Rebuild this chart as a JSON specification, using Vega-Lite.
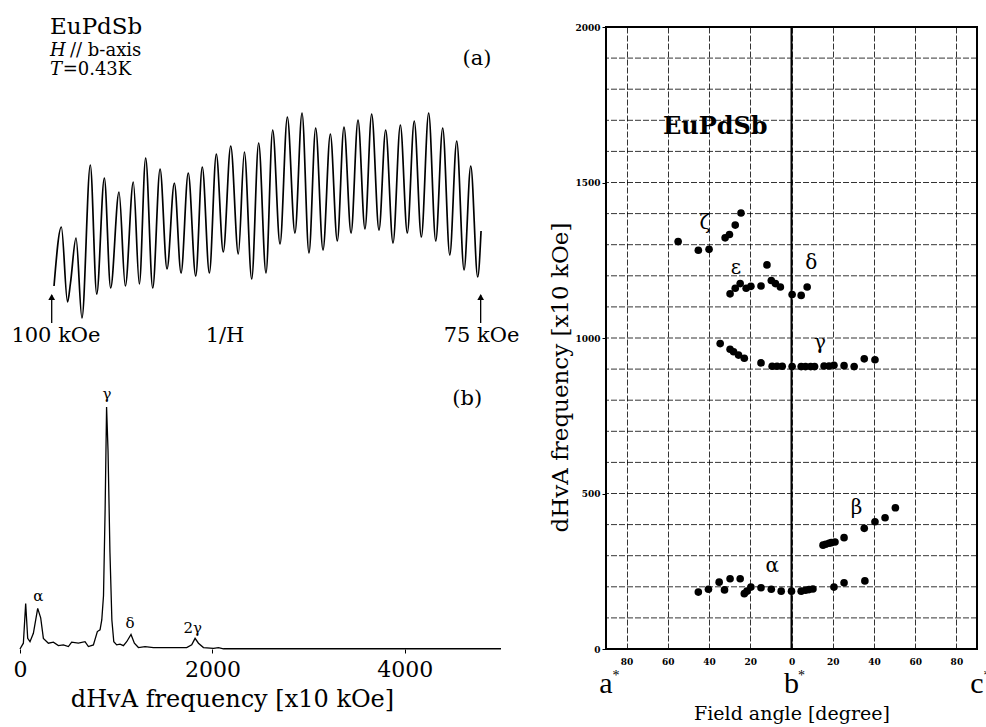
{
  "$schema": "https://vega.github.io/schema/vega-lite/v6.json",
  "padding": {"left": 11, "top": 15, "right": 0, "bottom": 0},
  "background": "white",
  "bounds": "flush",
  "spacing": 105,
  "config": {"font": "DejaVu Serif", "view": {"stroke": null}, "axis": {"labelColor": "black", "titleColor": "black", "domainColor": "black", "tickColor": "black"}},
  "hconcat": [
    {
      "width": 481,
      "height": 622,
      "view": {"stroke": null},
      "resolve": {"scale": {"x": "independent", "y": "independent"}, "axis": {"x": "independent", "y": "independent"}},
      "layer": [
        {
          "encoding": {
            "x": {"field": "invH", "type": "quantitative", "scale": {"domain": [9.7537, 13.491], "nice": false, "zero": false}, "axis": null},
            "y": {"field": "sig", "type": "quantitative", "scale": {"domain": [-27.6, 34.6], "nice": false, "zero": false}, "axis": null}
          },
          "layer": [
            {
              "data": {"values": [
                {"invH": 10.018, "sig": 8.7}, {"invH": 10.075, "sig": 14.6}, {"invH": 10.123, "sig": 7.1}, {"invH": 10.146, "sig": 9.0},
                {"invH": 10.189, "sig": 13.5}, {"invH": 10.235, "sig": 5.5}, {"invH": 10.300, "sig": 20.8}, {"invH": 10.350, "sig": 7.9},
                {"invH": 10.409, "sig": 19.5}, {"invH": 10.458, "sig": 8.5}, {"invH": 10.523, "sig": 18.1}, {"invH": 10.572, "sig": 8.7},
                {"invH": 10.634, "sig": 19.1}, {"invH": 10.681, "sig": 8.9}, {"invH": 10.730, "sig": 21.5}, {"invH": 10.785, "sig": 8.5},
                {"invH": 10.842, "sig": 20.4}, {"invH": 10.896, "sig": 10.4}, {"invH": 10.953, "sig": 19.0}, {"invH": 11.005, "sig": 10.0},
                {"invH": 11.061, "sig": 20.0}, {"invH": 11.119, "sig": 9.7}, {"invH": 11.170, "sig": 20.6}, {"invH": 11.225, "sig": 10.0},
                {"invH": 11.279, "sig": 21.9}, {"invH": 11.333, "sig": 12.1}, {"invH": 11.391, "sig": 22.7}, {"invH": 11.450, "sig": 11.9},
                {"invH": 11.497, "sig": 22.1}, {"invH": 11.554, "sig": 9.4}, {"invH": 11.608, "sig": 23.0}, {"invH": 11.665, "sig": 10.0},
                {"invH": 11.717, "sig": 24.3}, {"invH": 11.774, "sig": 12.9}, {"invH": 11.831, "sig": 25.6}, {"invH": 11.890, "sig": 14.0},
                {"invH": 11.945, "sig": 26.0}, {"invH": 11.999, "sig": 12.0}, {"invH": 12.051, "sig": 24.5}, {"invH": 12.108, "sig": 12.3},
                {"invH": 12.165, "sig": 23.9}, {"invH": 12.219, "sig": 13.2}, {"invH": 12.271, "sig": 24.6}, {"invH": 12.326, "sig": 14.0},
                {"invH": 12.380, "sig": 25.3}, {"invH": 12.434, "sig": 14.4}, {"invH": 12.486, "sig": 25.9}, {"invH": 12.543, "sig": 14.3},
                {"invH": 12.595, "sig": 24.3}, {"invH": 12.652, "sig": 13.0}, {"invH": 12.709, "sig": 24.8}, {"invH": 12.763, "sig": 14.0},
                {"invH": 12.817, "sig": 25.2}, {"invH": 12.872, "sig": 13.6}, {"invH": 12.929, "sig": 26.0}, {"invH": 12.984, "sig": 13.2},
                {"invH": 13.038, "sig": 24.5}, {"invH": 13.093, "sig": 11.8}, {"invH": 13.147, "sig": 23.2}, {"invH": 13.204, "sig": 10.3},
                {"invH": 13.256, "sig": 20.7}, {"invH": 13.310, "sig": 9.6}, {"invH": 13.336, "sig": 14.2}
              ]},
              "mark": {"type": "line", "interpolate": "monotone", "color": "black", "strokeWidth": 1.7}
            },
            {
              "data": {"values": [{"invH": 10.0, "sig": 5.0, "hi": 7.8}, {"invH": 13.333, "sig": 5.0, "hi": 7.8}]},
              "mark": {"type": "rule", "color": "black", "strokeWidth": 1.3},
              "encoding": {"y2": {"field": "hi"}}
            },
            {
              "data": {"values": [{"invH": 10.0, "sig": 7.6}, {"invH": 13.333, "sig": 7.6}]},
              "mark": {"type": "point", "shape": "triangle-up", "filled": true, "color": "black", "size": 45, "opacity": 1}
            },
            {
              "data": {"values": [{"invH": 9.987, "sig": 34.65, "label": "EuPdSb"}]},
              "mark": {"type": "text", "align": "left", "baseline": "middle", "fontSize": 23, "color": "black"},
              "encoding": {"text": {"field": "label"}}
            },
            {
              "data": {"values": [{"invH": 9.987, "sig": 32.25, "label": "H"}, {"invH": 9.987, "sig": 30.3, "label": "T"}]},
              "mark": {"type": "text", "align": "left", "baseline": "middle", "fontSize": 18, "fontStyle": "italic", "color": "black"},
              "encoding": {"text": {"field": "label"}}
            },
            {
              "data": {"values": [{"invH": 10.142, "sig": 32.25, "label": "// b-axis"}, {"invH": 10.085, "sig": 30.3, "label": "=0.43K"}]},
              "mark": {"type": "text", "align": "left", "baseline": "middle", "fontSize": 18, "color": "black"},
              "encoding": {"text": {"field": "label"}}
            },
            {
              "data": {"values": [
                {"invH": 13.305, "sig": 31.4, "label": "(a)"},
                {"invH": 10.033, "sig": 3.7, "label": "100 kOe"},
                {"invH": 11.347, "sig": 3.7, "label": "1/H"},
                {"invH": 13.34, "sig": 3.7, "label": "75 kOe"}
              ]},
              "mark": {"type": "text", "align": "center", "baseline": "middle", "fontSize": 21, "color": "black"},
              "encoding": {"text": {"field": "label"}}
            }
          ]
        },
        {
          "encoding": {
            "x": {"field": "freq", "type": "quantitative", "scale": {"domain": [0, 5000], "nice": false},
              "axis": {"orient": "bottom", "values": [0, 2000, 4000], "format": "d", "grid": false, "domain": false, "labelFlush": false, "labelFontSize": 22, "labelPadding": 6, "tickSize": 4, "title": "dHvA frequency [x10 kOe]", "titleFontSize": 24, "titleFontWeight": "normal", "titlePadding": 7, "titleX": 212}},
            "y": {"field": "amp", "type": "quantitative", "scale": {"domain": [0, 257], "nice": false}, "axis": null}
          },
          "layer": [
            {
              "data": {"values": [
                {"freq": 0, "amp": 0}, {"freq": 35, "amp": 2.4}, {"freq": 59, "amp": 18.8}, {"freq": 80, "amp": 4.4},
                {"freq": 104, "amp": 3}, {"freq": 139, "amp": 6.5}, {"freq": 184, "amp": 16.8}, {"freq": 215, "amp": 12.9},
                {"freq": 243, "amp": 4.4}, {"freq": 295, "amp": 2.4}, {"freq": 347, "amp": 2.8}, {"freq": 399, "amp": 1.4},
                {"freq": 451, "amp": 1.7}, {"freq": 503, "amp": 1.0}, {"freq": 537, "amp": 2.8}, {"freq": 607, "amp": 2.4},
                {"freq": 676, "amp": 3}, {"freq": 711, "amp": 1}, {"freq": 763, "amp": 1.7}, {"freq": 804, "amp": 7.2},
                {"freq": 832, "amp": 7.9}, {"freq": 850, "amp": 12}, {"freq": 868, "amp": 22}, {"freq": 885, "amp": 58},
                {"freq": 900, "amp": 100}, {"freq": 915, "amp": 82}, {"freq": 935, "amp": 40}, {"freq": 955, "amp": 12},
                {"freq": 975, "amp": 3}, {"freq": 1005, "amp": 1.7}, {"freq": 1040, "amp": 2}, {"freq": 1075, "amp": 1.4},
                {"freq": 1109, "amp": 3}, {"freq": 1154, "amp": 6}, {"freq": 1189, "amp": 2.4}, {"freq": 1231, "amp": 0.6},
                {"freq": 1300, "amp": 1}, {"freq": 1387, "amp": 0.6}, {"freq": 1525, "amp": 0.6}, {"freq": 1733, "amp": 0.6},
                {"freq": 1785, "amp": 1.7}, {"freq": 1820, "amp": 4.4}, {"freq": 1855, "amp": 2.4}, {"freq": 1907, "amp": 0.6},
                {"freq": 2011, "amp": 0.3}, {"freq": 2063, "amp": 0.6}, {"freq": 2115, "amp": 0.1}, {"freq": 3000, "amp": 0.1},
                {"freq": 4000, "amp": 0.1}, {"freq": 5000, "amp": 0.1}
              ]},
              "mark": {"type": "line", "color": "black", "strokeWidth": 1.3}
            },
            {
              "data": {"values": [
                {"freq": 190, "amp": 21.9, "label": "α"},
                {"freq": 905, "amp": 105.5, "label": "γ"},
                {"freq": 1144, "amp": 10.9, "label": "δ"},
                {"freq": 1796, "amp": 8.8, "label": "2γ"}
              ]},
              "mark": {"type": "text", "align": "center", "baseline": "middle", "fontSize": 15, "color": "black"},
              "encoding": {"text": {"field": "label"}}
            },
            {
              "data": {"values": [{"freq": 4649, "amp": 103.5, "label": "(b)"}]},
              "mark": {"type": "text", "align": "center", "baseline": "middle", "fontSize": 21, "color": "black"},
              "encoding": {"text": {"field": "label"}}
            }
          ]
        }
      ]
    },
    {
      "width": 371,
      "height": 622,
      "view": {"stroke": "black", "strokeWidth": 2},
      "layer": [
        {
          "data": {"values": [
            {"freq": 100}, {"freq": 200}, {"freq": 300}, {"freq": 400}, {"freq": 500}, {"freq": 600}, {"freq": 700},
            {"freq": 800}, {"freq": 900}, {"freq": 1000}, {"freq": 1100}, {"freq": 1200}, {"freq": 1300}, {"freq": 1400},
            {"freq": 1500}, {"freq": 1600}, {"freq": 1700}, {"freq": 1800}, {"freq": 1900}
          ]},
          "mark": {"type": "rule", "color": "black", "strokeWidth": 0.8, "strokeDash": [6, 2]},
          "encoding": {
            "y": {"field": "freq", "type": "quantitative", "scale": {"domain": [0, 2000], "nice": false}}
          }
        },
        {
          "data": {"values": [
            {"angle": -55, "freq": 1310}, {"angle": -45.2, "freq": 1282}, {"angle": -40, "freq": 1285}, {"angle": -32.2, "freq": 1322},
            {"angle": -30.1, "freq": 1333}, {"angle": -27.3, "freq": 1363}, {"angle": -24.5, "freq": 1402},
            {"angle": -29.8, "freq": 1142}, {"angle": -27.3, "freq": 1160}, {"angle": -24.9, "freq": 1175}, {"angle": -22, "freq": 1160},
            {"angle": -19.7, "freq": 1166}, {"angle": -14.8, "freq": 1167}, {"angle": -11.9, "freq": 1235}, {"angle": -9.8, "freq": 1185},
            {"angle": -7.8, "freq": 1175}, {"angle": -5.4, "freq": 1164}, {"angle": 0.3, "freq": 1140}, {"angle": 4.7, "freq": 1137},
            {"angle": 7.6, "freq": 1164},
            {"angle": -34.6, "freq": 982}, {"angle": -29.8, "freq": 964}, {"angle": -28.1, "freq": 956}, {"angle": -25.7, "freq": 945},
            {"angle": -22.9, "freq": 935}, {"angle": -14.8, "freq": 920}, {"angle": -9.4, "freq": 909}, {"angle": -7.0, "freq": 909},
            {"angle": -4.5, "freq": 909}, {"angle": 0.3, "freq": 908}, {"angle": 4.7, "freq": 908}, {"angle": 6.8, "freq": 908},
            {"angle": 9.3, "freq": 908}, {"angle": 11.2, "freq": 908}, {"angle": 15.8, "freq": 910}, {"angle": 18.2, "freq": 910},
            {"angle": 20.6, "freq": 912}, {"angle": 25.5, "freq": 911}, {"angle": 30.4, "freq": 908}, {"angle": 35.3, "freq": 933},
            {"angle": 40.5, "freq": 930},
            {"angle": 15.3, "freq": 334}, {"angle": 16.6, "freq": 337}, {"angle": 18.2, "freq": 340}, {"angle": 19.3, "freq": 342},
            {"angle": 21.1, "freq": 344}, {"angle": 25.5, "freq": 358}, {"angle": 35.3, "freq": 388}, {"angle": 40.5, "freq": 409},
            {"angle": 45.4, "freq": 422}, {"angle": 50.4, "freq": 454},
            {"angle": -45.2, "freq": 183}, {"angle": -40.3, "freq": 192}, {"angle": -35.1, "freq": 215}, {"angle": -32.5, "freq": 190},
            {"angle": -29.8, "freq": 226}, {"angle": -24.9, "freq": 226}, {"angle": -22.9, "freq": 178}, {"angle": -21.6, "freq": 186},
            {"angle": -19.7, "freq": 199}, {"angle": -14.8, "freq": 197}, {"angle": -9.8, "freq": 192}, {"angle": -5, "freq": 186},
            {"angle": 0, "freq": 186}, {"angle": 4.7, "freq": 186}, {"angle": 6.8, "freq": 189}, {"angle": 8.5, "freq": 191},
            {"angle": 10.4, "freq": 193}, {"angle": 20.6, "freq": 199}, {"angle": 25.5, "freq": 213}, {"angle": 35.6, "freq": 219}
          ]},
          "mark": {"type": "circle", "color": "black", "size": 58, "opacity": 1},
          "encoding": {
            "x": {"field": "angle", "type": "quantitative", "scale": {"domain": [-90, 90], "nice": false},
              "axis": {"values": [-80, -60, -40, -20, 0, 20, 40, 60, 80], "labelExpr": "abs(datum.value)", "labelOverlap": false, "grid": true, "gridColor": "black", "gridDash": [6, 2], "gridWidth": 0.8, "ticks": false, "domain": false, "labelFontSize": 9, "labelFontWeight": "bold", "labelPadding": 8, "title": "Field angle [degree]", "titleFontSize": 19, "titleFontWeight": "normal", "titlePadding": 38}},
            "y": {"field": "freq", "type": "quantitative", "scale": {"domain": [0, 2000], "nice": false},
              "axis": {"values": [0, 500, 1000, 1500, 2000], "format": "d", "labelOverlap": false, "grid": false, "tickSize": 4, "domain": false, "labelFontSize": 9, "labelFontWeight": "bold", "labelPadding": 2, "title": "dHvA frequency [x10 kOe]", "titleFontSize": 23, "titleFontWeight": "normal", "titlePadding": 2, "titleY": 350}}
          }
        },
        {
          "data": {"values": [{"angle": 0, "freq": 0, "top": 2000}]},
          "mark": {"type": "rule", "color": "black", "strokeWidth": 2},
          "encoding": {
            "x": {"field": "angle", "type": "quantitative", "scale": {"domain": [-90, 90], "nice": false}},
            "y": {"field": "freq", "type": "quantitative", "scale": {"domain": [0, 2000], "nice": false}},
            "y2": {"field": "top"}
          }
        },
        {
          "data": {"values": [
            {"angle": -42, "freq": 1371, "label": "ζ"},
            {"angle": -27, "freq": 1226, "label": "ε"},
            {"angle": 9.6, "freq": 1242, "label": "δ"},
            {"angle": 13.8, "freq": 985, "label": "γ"},
            {"angle": 31.5, "freq": 454, "label": "β"},
            {"angle": -9.4, "freq": 267, "label": "α"}
          ]},
          "mark": {"type": "text", "align": "center", "baseline": "middle", "fontSize": 20, "color": "black"},
          "encoding": {
            "x": {"field": "angle", "type": "quantitative", "scale": {"domain": [-90, 90], "nice": false}},
            "y": {"field": "freq", "type": "quantitative", "scale": {"domain": [0, 2000], "nice": false}},
            "text": {"field": "label"}
          }
        },
        {
          "data": {"values": [{"angle": -37, "freq": 1678, "label": "EuPdSb"}]},
          "mark": {"type": "text", "align": "center", "baseline": "middle", "fontSize": 24, "fontWeight": "bold", "color": "black"},
          "encoding": {
            "x": {"field": "angle", "type": "quantitative", "scale": {"domain": [-90, 90], "nice": false}},
            "y": {"field": "freq", "type": "quantitative", "scale": {"domain": [0, 2000], "nice": false}},
            "text": {"field": "label"}
          }
        },
        {
          "data": {"values": [
            {"angle": -90, "freq": -112, "label": "a"},
            {"angle": 0, "freq": -112, "label": "b"},
            {"angle": 90, "freq": -112, "label": "c"}
          ]},
          "mark": {"type": "text", "align": "center", "baseline": "middle", "fontSize": 30, "font": "Liberation Serif", "color": "black"},
          "encoding": {
            "x": {"field": "angle", "type": "quantitative", "scale": {"domain": [-90, 90], "nice": false}},
            "y": {"field": "freq", "type": "quantitative", "scale": {"domain": [0, 2000], "nice": false}},
            "text": {"field": "label"}
          }
        },
        {
          "data": {"values": [
            {"angle": -90, "freq": -88, "label": "*"},
            {"angle": 0, "freq": -88, "label": "*"},
            {"angle": 90, "freq": -88, "label": "*"}
          ]},
          "mark": {"type": "text", "align": "center", "baseline": "middle", "fontSize": 14, "font": "Liberation Serif", "dx": 10, "color": "black"},
          "encoding": {
            "x": {"field": "angle", "type": "quantitative", "scale": {"domain": [-90, 90], "nice": false}},
            "y": {"field": "freq", "type": "quantitative", "scale": {"domain": [0, 2000], "nice": false}},
            "text": {"field": "label"}
          }
        }
      ]
    }
  ]
}
